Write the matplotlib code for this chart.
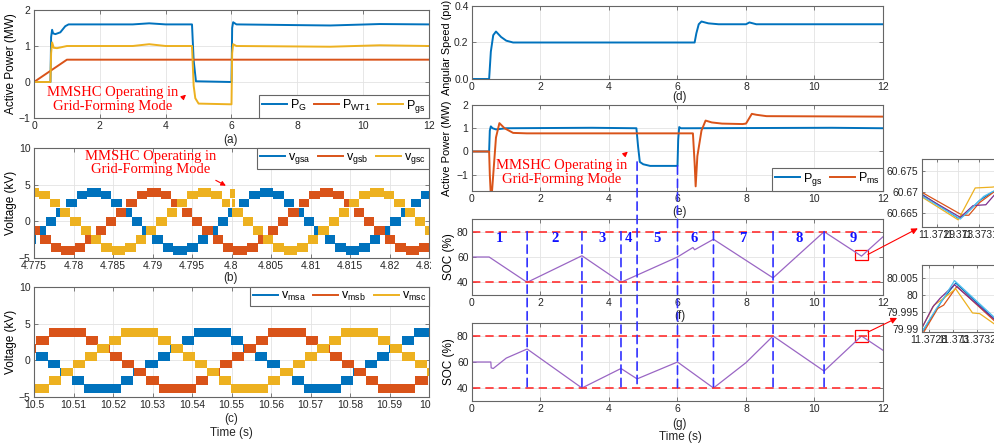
import numpy as np
import matplotlib
matplotlib.use("Agg")
import matplotlib.pyplot as plt
from matplotlib.patches import Rectangle, ConnectionPatch
from matplotlib.transforms import Bbox, TransformedBbox

# ---------------- data ----------------
# (a) active power, MW
PG_T = [0, 0.5, 0.52, 0.55, 0.58, 0.65, 0.8, 0.95, 1.05, 2.0, 3.0, 3.5, 4.0, 4.8, 4.85, 4.92, 6.0, 6.02, 6.05, 6.15, 8.0, 9.0, 10.5, 12]
PG_V = [0, 0, 1.25, 1.45, 1.35, 1.33, 1.38, 1.55, 1.6, 1.6, 1.6, 1.63, 1.6, 1.6, 0.6, 0.02, 0.0, 1.5, 1.66, 1.6, 1.58, 1.57, 1.61, 1.6]
PWT_T = [0, 1.0, 12]
PWT_V = [0, 0.62, 0.62]
PGS_A_T = [0, 0.5, 0.52, 0.55, 0.6, 0.7, 1.0, 3.0, 3.5, 4.0, 4.8, 4.85, 4.9, 5.0, 6.0, 6.02, 6.05, 6.15, 9.0, 10.5, 12]
PGS_A_V = [0, 0, 0.8, 1.1, 0.95, 0.94, 1.0, 1.0, 1.05, 1.0, 1.0, -0.1, -0.45, -0.6, -0.62, 0.8, 1.05, 1.0, 0.98, 1.02, 1.0]

# (b) grid-side voltages, one period of the staircase (kV / ms) and the peak time of each phase
VB_LEVELS = [3.95, 3.6, 2.5, 1.25, 0.0, -1.25, -2.5, -3.6, -3.95, -3.6, -2.5, -1.25, 0.0, 1.25, 2.5, 3.6]
VB_DUR_MS = [1.7, 1.35, 1.3, 1.3, 1.3, 1.3, 1.3, 1.35, 1.7, 1.35, 1.3, 1.3, 1.3, 1.3, 1.3, 1.35]
VB_PEAKS = [4.7826, 4.7902, 4.7966]          # a, b, c
VB_GLITCH = (4.7998, 4.8004, 3.8)            # phase c blip at the mode change

# (c) machine-side voltages
VC_LEVELS = [3.85, 2.7, 1.6, 0.5, -0.5, -1.6, -2.7, -3.85, -2.7, -1.6, -0.5, 0.5, 1.6, 2.7]
VC_DUR_MS = [9.4, 3.07, 3.07, 3.07, 3.07, 3.07, 3.07, 9.4, 3.07, 3.07, 3.07, 3.07, 3.07, 3.07]
VC_PEAKS = [10.5452, 10.5084, 10.5268]       # a, b, c

# (d) angular speed, pu
W_T = [0, 0.5, 0.55, 0.62, 0.7, 0.85, 1.0, 1.2, 6.5, 6.55, 6.62, 6.7, 6.9, 7.2, 8.0, 8.1, 8.3, 12]
W_V = [0, 0, 0.15, 0.24, 0.26, 0.23, 0.21, 0.2, 0.2, 0.25, 0.3, 0.315, 0.305, 0.3, 0.3, 0.31, 0.3, 0.3]

# (e) active power, MW
PGS_T = [0, 0.5, 0.52, 0.55, 0.6, 0.7, 1.0, 3.5, 4.8, 4.85, 4.9, 5.0, 5.2, 6.0, 6.02, 6.05, 6.1, 6.3, 10.5, 12]
PGS_V = [0, 0, 0.9, 1.08, 1.0, 0.95, 1.0, 1.02, 1.0, 0.2, -0.45, -0.55, -0.62, -0.62, 0.5, 1.05, 1.0, 1.0, 1.02, 1.0]
PMS_T = [0, 0.5, 0.52, 0.56, 0.62, 0.7, 0.8, 0.95, 1.2, 1.6, 6.45, 6.5, 6.53, 6.58, 6.7, 6.82, 7.0, 7.3, 7.9, 8.0, 8.17, 8.3, 8.6, 12]
PMS_V = [0, 0, -1.0, -2.2, -1.0, 0.6, 1.22, 1.0, 0.8, 0.78, 0.78, -0.5, -1.5, -0.2, 0.9, 1.33, 1.25, 1.2, 1.18, 1.2, 1.62, 1.58, 1.52, 1.5]

# (f), (g) state of charge, %
SOCF_T = [0, 0.5, 1.61, 3.21, 4.35, 6.0, 6.45, 6.5, 7.05, 8.79, 10.28, 11.373, 12]
SOCF_V = [60, 60, 40, 61, 40, 60, 67.5, 65.7, 74, 43.5, 80, 60.67, 76]
SOCG_T = [0, 0.55, 0.56, 0.62, 1.0, 1.61, 3.21, 4.35, 4.82, 6.0, 7.05, 8.0, 8.79, 10.28, 11.373, 12]
SOCG_V = [60, 60, 55.5, 55, 63, 70, 40, 55, 47, 60, 40, 59.5, 80, 53, 80, 69]
CUTS = [1.61, 3.21, 4.35, 4.82, 6.0, 7.05, 8.79, 10.28]
CUT_TOP_E = {4.82: -0.45, 6.0: -0.62}        # cuts that start on the P_gs trace in (e)
SECTION_X = [0.79, 2.42, 3.8, 4.58, 5.4, 6.48, 7.91, 9.55, 11.12]
SECTION_LBL = ["1", "2", "3", "4", "5", "6", "7", "8", "9"]

# zoom insets: one list pair per module
INS1 = [
    ([11.37280, 11.37300, 11.37303, 11.37310, 11.37316, 11.37325], [60.6705, 60.6638, 60.6645, 60.6680, 60.6700, 60.6718]),
    ([11.37280, 11.37302, 11.37305, 11.37310, 11.37318, 11.37325], [60.6708, 60.6645, 60.6645, 60.6675, 60.6705, 60.6735]),
    ([11.37280, 11.37300, 11.37308, 11.37316, 11.37325], [60.6698, 60.6634, 60.6710, 60.6712, 60.6718]),
    ([11.37280, 11.37301, 11.37307, 11.37313, 11.37325], [60.6702, 60.6640, 60.6668, 60.6670, 60.6740]),
    ([11.37280, 11.37301, 11.37306, 11.37312, 11.37325], [60.6700, 60.6636, 60.6660, 60.6690, 60.6725]),
]
INS2 = [
    ([11.37272, 11.37285, 11.37290, 11.37302, 11.37340], [79.988, 79.995, 79.998, 80.0035, 79.991]),
    ([11.37272, 11.37287, 11.37292, 11.37303, 11.37340], [79.987, 79.996, 79.997, 80.0025, 79.9905]),
    ([11.37272, 11.37284, 11.37292, 11.37302, 11.37316, 11.37322, 11.37340], [79.989, 79.997, 79.999, 80.0018, 79.9947, 79.9945, 79.990]),
    ([11.37272, 11.37283, 11.37289, 11.37301, 11.37340], [79.989, 79.9965, 79.999, 80.003, 79.991]),
    ([11.37272, 11.37286, 11.37291, 11.37301, 11.37340], [79.988, 79.996, 79.9985, 80.0042, 79.9915]),
]

BLUE, RED, YELLOW, PURPLE, CYAN = "#0072BD", "#D95319", "#EDB120", "#7E2F8E", "#4DBEEE"
INS_COLOURS = [BLUE, RED, YELLOW, PURPLE, CYAN]
SOC_COLOUR = "#9a66c4"
ANNOT = "MMSHC Operating in\nGrid-Forming Mode"

# ---------------- helpers ----------------
W, H = 995, 446
plt.rcParams["font.family"] = ["Liberation Sans", "DejaVu Sans"]
plt.rcParams["mathtext.fontset"] = "custom"
plt.rcParams["mathtext.rm"] = "Liberation Sans"


def box(x0, y0, x1, y1):
    return [x0 / W, 1 - y1 / H, (x1 - x0) / W, (y1 - y0) / H]


def style(ax, fs=7.5):
    ax.grid(True, color="#e3e3e3", lw=0.6)
    ax.set_axisbelow(True)
    for s in ax.spines.values():
        s.set_color("#666666")
        s.set_linewidth(0.8)
    ax.tick_params(direction="in", length=3, width=0.6, colors="#666666", pad=2.5,
                   labelcolor="#262626", labelsize=fs, top=True, right=True)


def staircase(peak, levels, durs_ms, t0, t1):
    durs = np.array(durs_ms) / 1000.0
    period = durs.sum()
    start = peak - durs[0] / 2
    while start > t0:
        start -= period
    edges, vals = [start], []
    while edges[-1] < t1:
        for lv, d in zip(levels, durs):
            vals.append(lv)
            edges.append(edges[-1] + d)
    vals.append(vals[-1])
    return np.array(edges), np.array(vals)


def legend(ax, loc, ncol):
    lg = ax.legend(loc=loc, ncol=ncol, borderaxespad=0, fontsize=9, handlelength=2.0,
                   fancybox=False, edgecolor="#666666", framealpha=1, columnspacing=0.6,
                   handletextpad=0.25, borderpad=0.25)
    lg.get_frame().set_linewidth(0.8)


def red_note(ax, xy_text, tail, head):
    ax.text(*xy_text, ANNOT, color="red", ha="center", va="center", fontsize=10.5,
            family="Liberation Serif", linespacing=1.05)
    ax.annotate("", xy=head, xytext=tail,
                arrowprops=dict(arrowstyle="-|>", color="red", lw=0.8, mutation_scale=7))


def ftext(x, y, s, **kw):
    fig.text(x / W, 1 - y / H, s, ha="center", va="center", fontsize=8.5, color="#262626", **kw)


fig = plt.figure(figsize=(W / 100, H / 100), dpi=100)

# ---------------- (a) ----------------
ax_a = fig.add_axes(box(34, 10, 429, 118))
style(ax_a)
ax_a.plot(PG_T, PG_V, color=BLUE, lw=1.4, label=r"$\mathregular{P_G}$")
ax_a.plot(PWT_T, PWT_V, color=RED, lw=1.4, label=r"$\mathregular{P_{WT1}}$")
ax_a.plot(PGS_A_T, PGS_A_V, color=YELLOW, lw=1.4, label=r"$\mathregular{P_{gs}}$")
ax_a.set_xlim(0, 12)
ax_a.set_ylim(-1, 2)
ax_a.set_xticks(range(0, 13, 2))
ax_a.set_yticks([-1, 0, 1, 2])
ax_a.set_ylabel("Active Power (MW)", fontsize=8.5)
ax_a.yaxis.set_label_coords(-0.042, 0.5)
legend(ax_a, "lower right", 3)
red_note(ax_a, (2.4, -0.48), (4.44, -0.5), (4.68, -0.3))
ftext(231, 140, "(a)")

# ---------------- (b) ----------------
ax_b = fig.add_axes(box(34, 148, 429, 258))
style(ax_b)
labels_b = [r"$\mathregular{v_{gsa}}$", r"$\mathregular{v_{gsb}}$", r"$\mathregular{v_{gsc}}$"]
for i, (pk, col, lab) in enumerate(zip(VB_PEAKS, [BLUE, RED, YELLOW], labels_b)):
    t, v = staircase(pk, VB_LEVELS, VB_DUR_MS, 4.77, 4.83)
    if i == 2:
        g0, g1, gv = VB_GLITCH
        k = np.searchsorted(t, g0)
        t = np.insert(t, [k, k], [g0, g1])
        v = np.insert(v, [k, k], [gv, v[k - 1]])
    ax_b.fill_between(t, v - 0.6, v + 0.6, step="post", color=col, lw=0)
    ax_b.plot([], [], color=col, lw=1.4, label=lab)
ax_b.set_xlim(4.775, 4.825)
ax_b.set_ylim(-5, 10)
xb = [4.775, 4.78, 4.785, 4.79, 4.795, 4.8, 4.805, 4.81, 4.815, 4.82, 4.825]
ax_b.set_xticks(xb)
ax_b.set_xticklabels([f"{x:g}" for x in xb])
ax_b.set_yticks([-5, 0, 5, 10])
ax_b.set_ylabel("Voltage (kV)", fontsize=8.5)
ax_b.yaxis.set_label_coords(-0.042, 0.5)
legend(ax_b, "upper right", 3)
red_note(ax_b, (4.7897, 7.95), (4.7977, 5.77), (4.7996, 4.68))
ftext(231, 278, "(b)")

# ---------------- (c) ----------------
ax_c = fig.add_axes(box(34, 287, 429, 397))
style(ax_c)
labels_c = [r"$\mathregular{v_{msa}}$", r"$\mathregular{v_{msb}}$", r"$\mathregular{v_{msc}}$"]
for pk, col, lab in zip(VC_PEAKS, [BLUE, RED, YELLOW], labels_c):
    t, v = staircase(pk, VC_LEVELS, VC_DUR_MS, 10.49, 10.61)
    ax_c.fill_between(t, v - 0.6, v + 0.6, step="post", color=col, lw=0)
    ax_c.plot([], [], color=col, lw=1.4, label=lab)
ax_c.set_xlim(10.5, 10.6)
ax_c.set_ylim(-5, 10)
xc = [10.5, 10.51, 10.52, 10.53, 10.54, 10.55, 10.56, 10.57, 10.58, 10.59, 10.6]
ax_c.set_xticks(xc)
ax_c.set_xticklabels([f"{x:g}" for x in xc])
ax_c.set_yticks([-5, 0, 5, 10])
ax_c.set_ylabel("Voltage (kV)", fontsize=8.5)
ax_c.yaxis.set_label_coords(-0.042, 0.5)
legend(ax_c, "upper right", 3)
ftext(231, 419, "(c)")
ftext(231, 433, "Time (s)")

clip = TransformedBbox(Bbox.from_extents(0, 0, 431 / W, 1), fig.transFigure)
for ax in (ax_b, ax_c):
    lab = ax.xaxis.get_major_ticks()[-1].label1
    lab.set_clip_box(clip)
    lab.set_clip_on(True)

# ---------------- (d) ----------------
ax_d = fig.add_axes(box(472, 6, 883, 79))
style(ax_d)
ax_d.plot(W_T, W_V, color=BLUE, lw=1.4)
ax_d.set_xlim(0, 12)
ax_d.set_ylim(0, 0.4)
ax_d.set_xticks(range(0, 13, 2))
ax_d.set_yticks([0, 0.2, 0.4])
ax_d.set_ylabel("Angular Speed (pu)", fontsize=7.8)
ax_d.yaxis.set_label_coords(-0.048, 0.43)
ftext(680, 97, "(d)")

# ---------------- (e) ----------------
ax_e = fig.add_axes(box(472, 105, 883, 191))
style(ax_e)
ax_e.plot(PGS_T, PGS_V, color=BLUE, lw=1.4, label=r"$\mathregular{P_{gs}}$")
ax_e.plot(PMS_T, PMS_V, color=RED, lw=1.4, label=r"$\mathregular{P_{ms}}$")
ax_e.set_xlim(0, 12)
ax_e.set_ylim(-1.7, 2)
ax_e.set_xticks(range(0, 13, 2))
ax_e.set_yticks([-1, 0, 1, 2])
ax_e.set_ylabel("Active Power (MW)", fontsize=8)
ax_e.yaxis.set_label_coords(-0.048, 0.5)
legend(ax_e, "lower right", 2)
red_note(ax_e, (2.63, -0.91), (4.38, -0.23), (4.61, 0.07))
ftext(680, 212, "(e)")

# ---------------- (f), (g) ----------------
ax_f = fig.add_axes(box(472, 219, 883, 295))
ax_g = fig.add_axes(box(472, 323, 883, 401))
for ax, t, v in ((ax_f, SOCF_T, SOCF_V), (ax_g, SOCG_T, SOCG_V)):
    style(ax)
    ax.plot(t, v, color=SOC_COLOUR, lw=0.9)
    for lim in (80, 40):
        ax.axhline(lim, color="#ff3030", lw=1.2, ls=(0, (5, 3)))
    ax.set_xlim(0, 12)
    ax.set_ylim(30, 90)
    ax.set_xticks(range(0, 13, 2))
    ax.set_yticks([40, 60, 80])
    ax.set_ylabel("SOC (%)", fontsize=8.5)
    ax.yaxis.set_label_coords(-0.042, 0.5)
for x, s in zip(SECTION_X, SECTION_LBL):
    ax_f.text(x, 74.5, s, color="#1010ff", fontsize=10.5, fontweight="bold",
              family="Liberation Serif", ha="center", va="center")
ftext(680, 316, "(f)")
ftext(680, 424, "(g)")
ftext(680, 437, "Time (s)")

# dashed cut lines running down to (g)
for x in CUTS:
    if x in CUT_TOP_E:
        top_ax, y0 = ax_e, CUT_TOP_E[x]
    else:
        top_ax, y0 = ax_f, 80
    con = ConnectionPatch(xyA=(x, y0), coordsA=top_ax.transData, xyB=(x, 40), coordsB=ax_g.transData,
                          color="#3030ff", lw=1.2, ls=(0, (5, 3)), zorder=5)
    fig.add_artist(con)

# zoom boxes
ax_f.add_patch(Rectangle((11.18, 57.3), 0.38, 8.6, fill=False, ec="red", lw=0.9))
ax_g.add_patch(Rectangle((11.18, 75.4), 0.38, 9.2, fill=False, ec="red", lw=0.9))

# ---------------- insets ----------------
ins1 = fig.add_axes(box(922, 159, 1005, 227))
ins2 = fig.add_axes(box(922, 265, 1005, 332))
for ins, data in ((ins1, INS1), (ins2, INS2)):
    style(ins, fs=7.5)
    ins.tick_params(length=2)
    for (t, v), col in zip(data, INS_COLOURS):
        ins.plot(t, v, color=col, lw=0.9)
ins1.set_xlim(11.37283, 11.37322)
ins1.set_ylim(60.6617, 60.6779)
ins1.set_xticks([11.3729, 11.373, 11.3731])
ins1.set_xticklabels(["11.3729", "11.373", "11.3731"])
ins1.set_yticks([60.665, 60.67, 60.675])
ins1.set_yticklabels(["60.665", "60.67", "60.675"])
ins2.set_xlim(11.37274, 11.37343)
ins2.set_ylim(79.9891, 80.0088)
ins2.set_xticks([11.3728, 11.373, 11.3732])
ins2.set_xticklabels(["11.3728", "11.373", "11.3732"])
ins2.set_yticks([79.99, 79.995, 80.0, 80.005])
ins2.set_yticklabels(["79.99", "79.995", "80", "80.005"])

for xyA, axA, xyB, axB in (((11.56, 62.0), ax_f, (-0.05, -0.02), ins1),
                           ((11.56, 83.0), ax_g, (-0.30, 0.21), ins2)):
    arr = ConnectionPatch(xyA=xyA, coordsA=axA.transData, xyB=xyB, coordsB=axB.transAxes,
                          arrowstyle="-|>", color="red", lw=0.8, mutation_scale=9, zorder=6)
    fig.add_artist(arr)

fig.savefig("out.png", dpi=100)
